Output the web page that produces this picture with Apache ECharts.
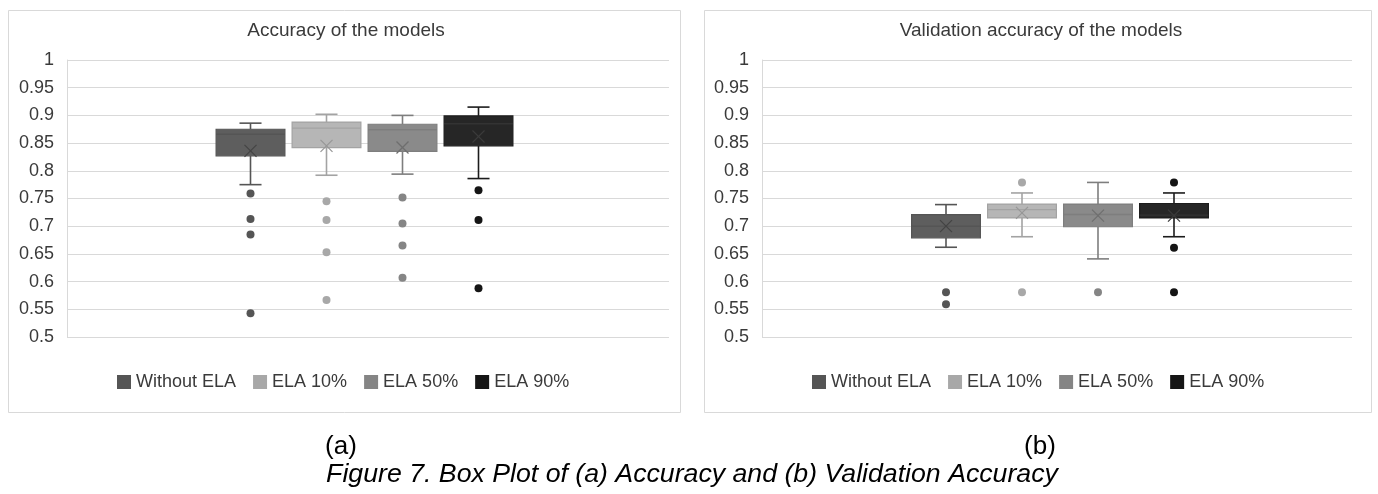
<!DOCTYPE html>
<html>
<head>
<meta charset="utf-8">
<script src="https://cdn.jsdelivr.net/npm/echarts@6/dist/echarts.min.js"></script>
<style>
html,body{margin:0;padding:0;background:#fff;}
#main{width:1378px;height:494px;}
</style>
</head>
<body>
<div id="main"></div>
<script>
// ---- data ----
const categories = ['Without ELA', 'ELA 10%', 'ELA 50%', 'ELA 90%'];
// [min, Q1, median, Q3, max]
const accBox = [
  [0.775, 0.827, 0.866, 0.875, 0.886],
  [0.792, 0.842, 0.877, 0.888, 0.902],
  [0.794, 0.835, 0.874, 0.884, 0.900],
  [0.786, 0.845, 0.885, 0.899, 0.915]
];
const accMean = [0.836, 0.845, 0.842, 0.862];
const accOutliers = [
  [0.759, 0.713, 0.685, 0.543],
  [0.745, 0.711, 0.653, 0.567],
  [0.752, 0.705, 0.665, 0.607],
  [0.765, 0.711, 0.588]
];
const valBox = [
  [0.662, 0.679, 0.700, 0.721, 0.739],
  [0.681, 0.715, 0.730, 0.740, 0.760],
  [0.641, 0.699, 0.721, 0.740, 0.779],
  [0.681, 0.715, 0.720, 0.741, 0.760]
];
const valMean = [0.700, 0.724, 0.719, 0.719];
const valOutliers = [
  [0.581, 0.559],
  [0.779, 0.581],
  [0.581],
  [0.779, 0.661, 0.581]
];
const titles = ['Accuracy of the models', 'Validation accuracy of the models'];
const captionA = '(a)';
const captionB = '(b)';
const caption = 'Figure 7. Box Plot of (a) Accuracy and (b) Validation Accuracy';

// ---- styles ----
const fills = ['#5e5e5e', '#b6b6b6', '#8a8a8a', '#262626'];
const lines = ['#555555', '#a3a3a3', '#7e7e7e', '#1c1c1c'];
const dots = ['#555555', '#a8a8a8', '#858585', '#151515'];
const meanCol = ['#444444', '#979797', '#6e6e6e', '#3a3a3a'];
const FONT = '"Liberation Sans", Arial, sans-serif';

function renderBox(params, api) {
  const idx = api.value(0);
  const c = [1, 2, 3, 4, 5].map(i => api.coord([idx, api.value(i)]));
  const m = api.coord([idx, api.value(6)]);
  const band = api.size([1, 0])[0];
  const bw = band * 0.905, cw = band * 0.29, xs = 6;
  const cx = c[0][0];
  const ls = { stroke: lines[idx], lineWidth: 1.6 };
  const ms = { stroke: meanCol[idx], lineWidth: 1.2 };
  return {
    type: 'group',
    children: [
      { type: 'line', shape: { x1: cx, y1: c[0][1], x2: cx, y2: c[1][1] }, style: ls },
      { type: 'line', shape: { x1: cx, y1: c[3][1], x2: cx, y2: c[4][1] }, style: ls },
      { type: 'line', shape: { x1: cx - cw / 2, y1: c[0][1], x2: cx + cw / 2, y2: c[0][1] }, style: ls },
      { type: 'line', shape: { x1: cx - cw / 2, y1: c[4][1], x2: cx + cw / 2, y2: c[4][1] }, style: ls },
      { type: 'rect', shape: { x: cx - bw / 2, y: c[3][1], width: bw, height: c[1][1] - c[3][1] },
        style: { fill: fills[idx], stroke: lines[idx], lineWidth: 1.2 } },
      { type: 'line', shape: { x1: cx - bw / 2, y1: c[2][1], x2: cx + bw / 2, y2: c[2][1] },
        style: { stroke: lines[idx] === '#1c1c1c' ? '#333' : lines[idx], lineWidth: 1.4 } },
      { type: 'line', shape: { x1: cx - xs, y1: m[1] - xs, x2: cx + xs, y2: m[1] + xs }, style: ms },
      { type: 'line', shape: { x1: cx - xs, y1: m[1] + xs, x2: cx + xs, y2: m[1] - xs }, style: ms }
    ]
  };
}

function boxData(box, mean) {
  return box.map((b, i) => [i].concat(b).concat([mean[i]]));
}

const gridTop = 60, gridH = 277;
const grids = [
  { left: 67, top: gridTop, width: 602, height: gridH },
  { left: 212.5, top: gridTop, width: 304, height: gridH },
  { left: 762, top: gridTop, width: 590, height: gridH },
  { left: 908, top: gridTop, width: 304, height: gridH }
];

function visY(gi) {
  return {
    type: 'value', gridIndex: gi, min: 0.5, max: 1, interval: 0.05,
    axisLine: { show: true, lineStyle: { color: '#d9d9d9', width: 1 } },
    axisTick: { show: false },
    splitLine: { show: true, lineStyle: { color: '#d9d9d9', width: 1.2 } },
    axisLabel: { fontSize: 18, fontFamily: FONT, color: '#3a3a3a', margin: 13,
      formatter: v => String(parseFloat(v.toFixed(2))) }
  };
}
function hidY(gi) {
  return { type: 'value', gridIndex: gi, min: 0.5, max: 1, interval: 0.05, show: false, splitLine: { show: false } };
}
function visX(gi) {
  return { type: 'category', gridIndex: gi, data: [''], show: false };
}
function boxX(gi) {
  return { type: 'category', gridIndex: gi, data: categories, show: false };
}

const series = [];
[[accBox, accMean, accOutliers, 1], [valBox, valMean, valOutliers, 3]].forEach(([box, mean, outl, ax]) => {
  series.push({
    type: 'custom', xAxisIndex: ax, yAxisIndex: ax, renderItem: renderBox,
    data: boxData(box, mean), encode: { x: 0, y: [1, 2, 3, 4, 5] }, z: 2
  });
  categories.forEach((name, i) => {
    series.push({
      type: 'scatter', name: name, xAxisIndex: ax, yAxisIndex: ax,
      symbol: 'circle', symbolSize: 8,
      itemStyle: { color: dots[i], opacity: 1 },
      data: outl[i].map(v => [i, v]), z: 3
    });
  });
});

function legendAt(left) {
  return {
    data: categories, left: left, top: 373, orient: 'horizontal', padding: 0,
    icon: 'rect', itemWidth: 14, itemHeight: 14, itemGap: 17,
    textStyle: { fontSize: 18, fontFamily: FONT, color: '#3a3a3a' },
    selectedMode: false
  };
}

const txt = (x, y, text, size, extra) => ({
  type: 'text', x: x, y: y, silent: true,
  style: Object.assign({ text: text, fontSize: size, fontFamily: FONT, fill: '#3a3a3a',
    align: 'center', verticalAlign: 'middle' }, extra || {})
});

const option = {
  animation: false,
  backgroundColor: '#fff',
  grid: grids,
  xAxis: [visX(0), boxX(1), visX(2), boxX(3)],
  yAxis: [visY(0), hidY(1), visY(2), hidY(3)],
  legend: [legendAt(117), legendAt(812)],
  series: series,
  graphic: [
    { type: 'rect', shape: { x: 8.5, y: 10.5, width: 672, height: 402 }, style: { fill: null, stroke: '#d9d9d9', lineWidth: 1 }, silent: true, z: -10 },
    { type: 'rect', shape: { x: 704.5, y: 10.5, width: 667, height: 402 }, style: { fill: null, stroke: '#d9d9d9', lineWidth: 1 }, silent: true, z: -10 },
    txt(346, 31, titles[0], 19),
    txt(1041, 31, titles[1], 19),
    txt(341, 447, captionA, 26, { fill: '#000' }),
    txt(1040, 447, captionB, 26, { fill: '#000' }),
    txt(692, 475, caption, 26.7, { fill: '#000', fontStyle: 'italic' })
  ]
};

const chart = echarts.init(document.getElementById('main'), null, { renderer: 'canvas' });
chart.setOption(option);
</script>
</body>
</html>
